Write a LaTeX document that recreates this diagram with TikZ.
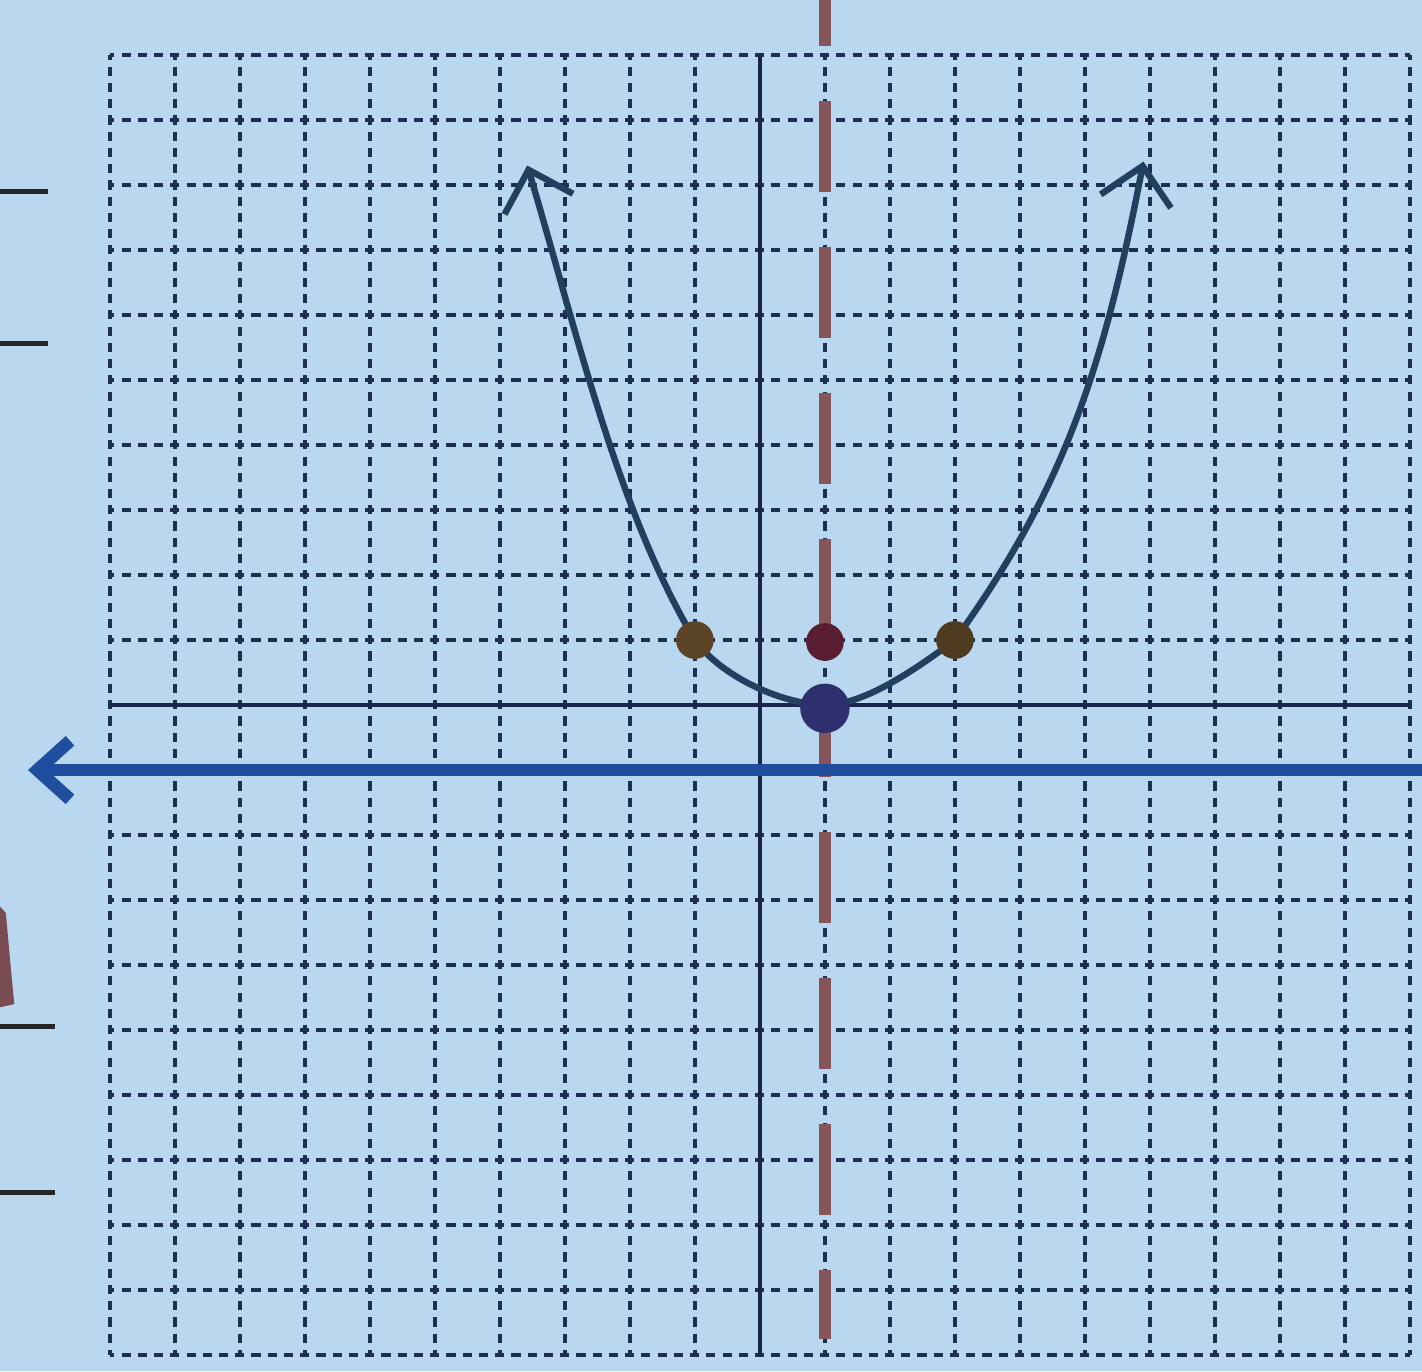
\documentclass[tikz,border=0pt]{standalone}
\usetikzlibrary{arrows.meta}
\definecolor{cpaper}{HTML}{B9D7EF}
\definecolor{cgrid}{HTML}{1C2E52}
\definecolor{caxis}{HTML}{17264A}
\definecolor{ccurve}{HTML}{213F5E}
\definecolor{cdirect}{HTML}{1F4E9E}
\definecolor{cred}{HTML}{85555A}
\definecolor{cbrown}{HTML}{5C4526}
\definecolor{cmaroon}{HTML}{5A1E33}
\definecolor{cviolet}{HTML}{2E2F6E}
\tikzset{
  every picture/.style={line width=1.2pt},
  gridline/.style={draw=cgrid, line width=1.9pt, dash pattern=on 4pt off 3.11pt, dash phase=2pt},
  axis/.style={draw=caxis, line width=1.8pt},
  curve/.style={draw=ccurve, line width=2.8pt, line cap=round, line join=round,
    {Straight Barb[length=5.5mm, width=11mm]}-{Straight Barb[length=5.5mm, width=11mm]}},
  symline/.style={draw=cred, line width=5pt, dash pattern=on 40pt off 24pt, dash phase=20pt},
  directrix/.style={draw=cdirect, line width=5.6pt, {Straight Barb[length=5mm, width=9mm]}-},
  margin/.style={draw=black!85, line width=2.2pt},
  dot/.style={circle, fill=#1, inner sep=0pt, minimum size=5.8mm},
}

\begin{document}
\begin{tikzpicture}
  \fill[cpaper] (-11.69,-10.246) rectangle (10.185,10.846);
  \useasboundingbox (-11.69,-10.246) rectangle (10.185,10.846);
  \foreach \x in {-10,...,-1,1,2,...,10}
    \draw[gridline] (\x,10) -- (\x,-10);
  \foreach \y in {-10,...,-1,1,2,...,10}
    \draw[gridline] (-10,\y) -- (10,\y);
  \draw[axis] (-10,0) -- (10,0);
  \draw[axis] (0,10) -- (0,-10);
  \draw[margin] (-11.69,7.9) -- (-10.95,7.9);
  \draw[margin] (-11.69,5.56) -- (-10.95,5.56);
  \draw[margin] (-11.69,-4.95) -- (-10.85,-4.95);
  \draw[margin] (-11.69,-7.5) -- (-10.85,-7.5);
  \fill[cred!90!black] (-11.69,-3.1) -- (-11.6,-3.2) -- (-11.5,-4.3) -- (-11.47,-4.6) -- (-11.69,-4.65) -- cycle;
  \draw[symline] (1,10.846) -- (1,-9.75);
  \draw[directrix] (-11.26,-1) -- (10.185,-1);
  \draw[curve] (-3.58,8.3) .. controls (-2.83,5.8) and (-2.2,3) .. (-1,1)
    .. controls (-0.6,0.45) and (0.3,0.02) .. (1,0)
    .. controls (1.6,0) and (2.4,0.55) .. (3,1)
    .. controls (4.656,3.3) and (5.275,5.11) .. (5.9,8.36);
  \node[dot=cbrown] (lpt) at (-1,1) {};
  \node[dot=cbrown!85!black] (rpt) at (3,1) {};
  \node[dot=cmaroon] (focus) at (1,0.97) {};
  \node[dot=cviolet, minimum width=6mm, minimum height=7.6mm] (vtx) at (1,-0.05) {};
\end{tikzpicture}
\end{document}
